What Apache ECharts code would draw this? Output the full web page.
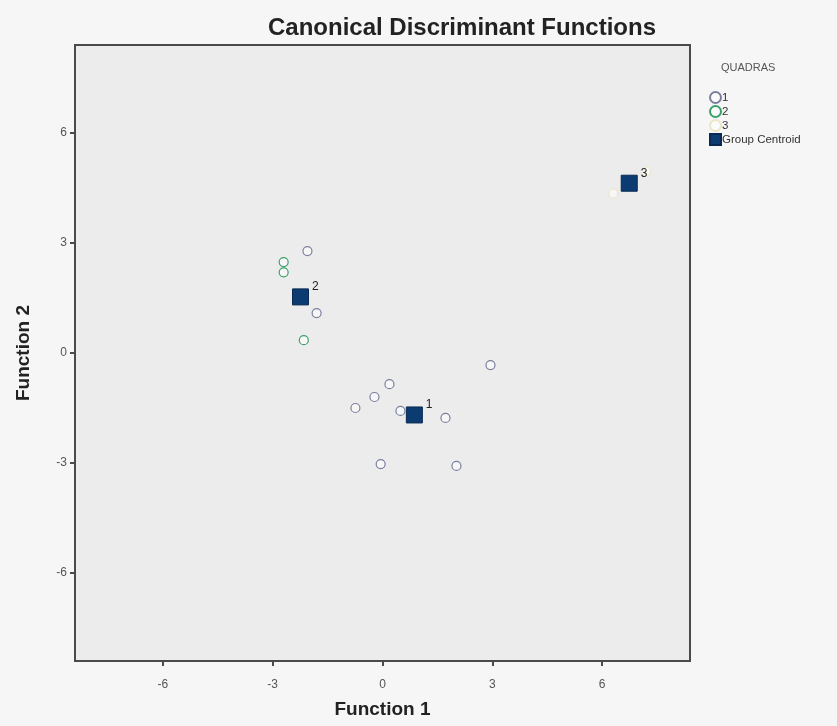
<!DOCTYPE html>
<html>
<head>
<meta charset="utf-8">
<script src="https://cdn.jsdelivr.net/npm/echarts@6/dist/echarts.min.js"></script>
<style>
  html, body { margin: 0; padding: 0; background: #f6f6f6; }
  #chart { width: 837px; height: 726px; }
</style>
</head>
<body>
<div id="chart"></div>
<script>
// discriminant scores per group
const group1X = [-2.05, -1.80, 0.19, -0.22, -0.74, 0.49, 1.72, 2.95, -0.05, 2.02];
const group1Y = [2.78, 1.09, -0.85, -1.20, -1.50, -1.58, -1.77, -0.33, -3.03, -3.08];
const group2X = [-2.70, -2.70, -2.15];
const group2Y = [2.48, 2.20, 0.35];
const group3X = [6.30, 7.20];
const group3Y = [4.35, 4.95];
const centroidNames = ['1', '2', '3'];
const centroidX = [0.87, -2.24, 6.74];
const centroidY = [-1.69, 1.53, 4.63];
const tickValues = [-6, -3, 0, 3, 6];

const zip = (xs, ys) => xs.map((x, i) => [x, ys[i]]);

const chart = echarts.init(document.getElementById('chart'));

const axisCommon = {
  type: 'value',
  min: -8.4,
  max: 8.4,
  axisLine: { show: true, onZero: false, lineStyle: { color: '#4a4a4a', width: 2 } },
  axisTick: { show: true, customValues: tickValues, length: 5, lineStyle: { color: '#4a4a4a', width: 2 } },
  axisLabel: { customValues: tickValues, color: '#555', fontSize: 12, fontFamily: 'Liberation Sans' },
  splitLine: { show: false },
  nameLocation: 'middle',
  nameTextStyle: { fontSize: 19, fontWeight: 'bold', color: '#222', fontFamily: 'Liberation Sans' }
};

const circle = (color) => ({
  type: 'scatter',
  symbol: 'circle',
  symbolSize: 9,
  itemStyle: { color: 'rgba(255,255,255,0.6)', borderColor: color, borderWidth: 1.2, opacity: 1 }
});

chart.setOption({
  backgroundColor: '#f6f6f6',
  animation: false,
  title: [
    {
      text: 'Canonical Discriminant Functions',
      left: 457, top: 11, textAlign: 'center',
      textStyle: { fontSize: 24, fontWeight: 'bold', color: '#222', fontFamily: 'Liberation Sans' }
    },
    {
      text: 'QUADRAS',
      left: 716, top: 57,
      textStyle: { fontSize: 11, fontWeight: 'normal', color: '#555', fontFamily: 'Liberation Sans' }
    }
  ],
  legend: {
    orient: 'vertical',
    left: 704, top: 86,
    itemWidth: 11, itemHeight: 11, itemGap: 1,
    textStyle: { fontSize: 11.5, lineHeight: 11, color: '#333', fontFamily: 'Liberation Sans', padding: [0, 0, 0, -4] },
    data: [
      { name: '1', icon: 'circle' },
      { name: '2', icon: 'circle' },
      { name: '3', icon: 'circle' },
      { name: 'Group Centroid', icon: 'rect' }
    ]
  },
  grid: {
    left: 75, right: 147, top: 45, bottom: 65,
    outerBoundsMode: 'none',
    show: true, backgroundColor: '#ececec', borderColor: '#4a4a4a', borderWidth: 2
  },
  xAxis: Object.assign({}, axisCommon, {
    name: 'Function 1', nameGap: 39,
    axisLabel: Object.assign({}, axisCommon.axisLabel, { margin: 18 })
  }),
  yAxis: Object.assign({}, axisCommon, { name: 'Function 2', nameGap: 42 }),
  series: [
    Object.assign(circle('#7a7f9e'), { name: '1', data: zip(group1X, group1Y) }),
    Object.assign(circle('#3aa06a'), { name: '2', data: zip(group2X, group2Y) }),
    Object.assign(circle('#ece6c8'), { name: '3', data: zip(group3X, group3Y) }),
    {
      name: 'Group Centroid',
      type: 'scatter',
      symbol: 'rect',
      symbolSize: 16,
      itemStyle: { color: '#0b3b70', borderColor: '#082a52', borderWidth: 1, opacity: 1 },
      label: {
        show: true,
        position: 'right',
        offset: [-2, -10],
        formatter: (p) => p.name,
        fontSize: 12,
        color: '#222',
        fontFamily: 'Liberation Sans'
      },
      data: centroidNames.map((n, i) => ({ name: n, value: [centroidX[i], centroidY[i]] }))
    }
  ]
});
</script>
</body>
</html>
